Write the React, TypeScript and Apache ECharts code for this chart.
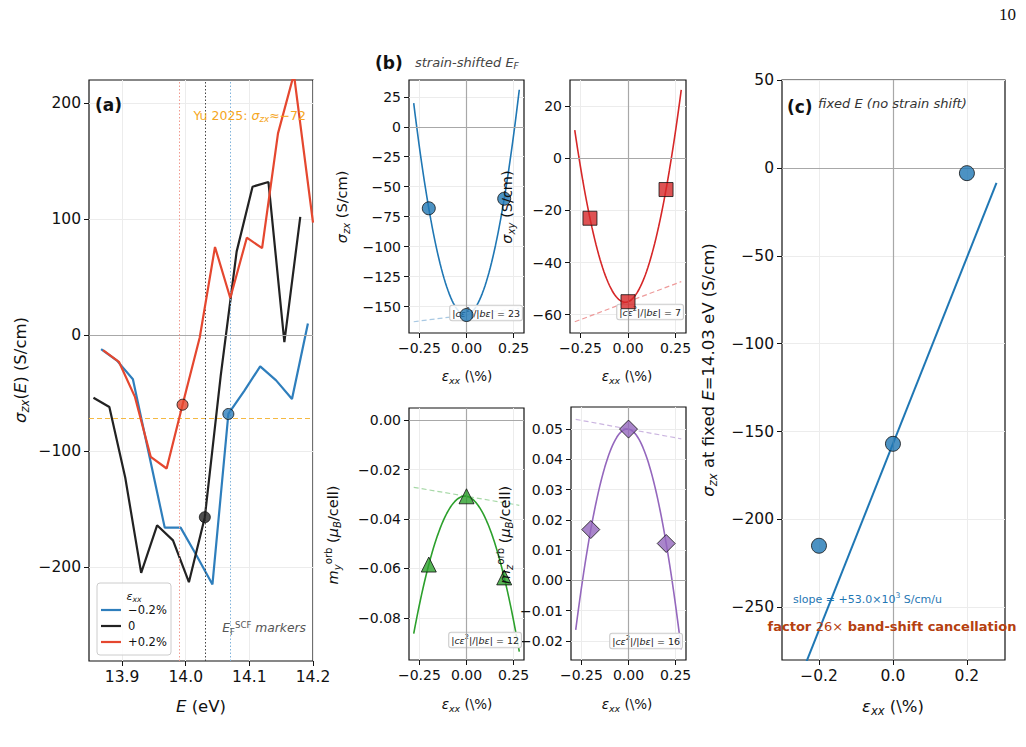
import React, { useEffect, useRef } from 'react';
import * as echarts from 'echarts';

const FONT = '"DejaVu Sans", sans-serif';

// ---------- Panel (a): sigma_zx(E) ----------
const E_m02 = [13.867, 13.892, 13.917, 13.942, 13.967, 13.992, 14.017, 14.042, 14.067, 14.092, 14.117, 14.142, 14.167, 14.192];
const S_m02 = [-12, -22, -38, -102, -166, -166, -190, -215, -68, -48, -27, -39, -55, 10];
const E_0 = [13.855, 13.88, 13.905, 13.93, 13.955, 13.98, 14.005, 14.03, 14.055, 14.08, 14.105, 14.13, 14.155, 14.18];
const S_0 = [-54, -62, -123, -205, -164, -177, -213, -157, -35, 72, 128, 132, -6, 102];
const E_p02 = [13.87, 13.895, 13.92, 13.945, 13.97, 13.995, 14.022, 14.046, 14.07, 14.096, 14.12, 14.145, 14.17, 14.2];
const S_p02 = [-13, -23, -53, -105, -115, -60, -2, 76, 32, 84, 75, 174, 225, 97];
const EF_SCF = [14.067, 14.03, 13.995];
const SIGMA_AT_EF = [-68, -157, -60];
const YU2025 = -72;
const A_XTICKS = [13.9, 14.0, 14.1, 14.2];
const A_YTICKS = [-200, -100, 0, 100, 200];

// ---------- Panel (b): strain-shifted E_F ----------
const STRAIN = [-0.2, 0, 0.2];
const SIG_ZX = [-68, -157, -60];
const SIG_XY = [-23, -55, -12];
const M_Y_ORB = [-0.0584, -0.0308, -0.0636];
const M_Z_ORB = [0.0168, 0.05, 0.0122];
const RATIO_LABELS = ['23', '7', '12', '16'];
const B_XTICKS = [-0.25, 0, 0.25];
const TL_YTICKS = [-150, -125, -100, -75, -50, -25, 0, 25];
const TR_YTICKS = [-60, -40, -20, 0, 20];
const BL_YTICKS = [-0.08, -0.06, -0.04, -0.02, 0];
const BR_YTICKS = [-0.02, -0.01, 0, 0.01, 0.02, 0.03, 0.04, 0.05];

// ---------- Panel (c): fixed E ----------
const SIG_FIXED = [-215, -157, -3];
const C_XTICKS = [-0.2, 0, 0.2];
const C_YTICKS = [-250, -200, -150, -100, -50, 0, 50];

const FIT_RANGE = [-0.28, 0.28];

function polyfit2(xs: number[], ys: number[]) {
  // least squares quadratic y = a + b x + c x^2
  const n = xs.length;
  let s0 = n, s1 = 0, s2 = 0, s3 = 0, s4 = 0, t0 = 0, t1 = 0, t2 = 0;
  for (let i = 0; i < n; i++) {
    const x = xs[i], y = ys[i];
    s1 += x; s2 += x * x; s3 += x * x * x; s4 += x * x * x * x;
    t0 += y; t1 += x * y; t2 += x * x * y;
  }
  const M = [[s0, s1, s2, t0], [s1, s2, s3, t1], [s2, s3, s4, t2]];
  for (let i = 0; i < 3; i++) {
    let p = i;
    for (let r = i + 1; r < 3; r++) if (Math.abs(M[r][i]) > Math.abs(M[p][i])) p = r;
    [M[i], M[p]] = [M[p], M[i]];
    for (let r = 0; r < 3; r++) {
      if (r === i) continue;
      const f = M[r][i] / M[i][i];
      for (let k = i; k < 4; k++) M[r][k] -= f * M[i][k];
    }
  }
  return { a: M[0][3] / M[0][0], b: M[1][3] / M[1][1], c: M[2][3] / M[2][2] };
}

function sampleX(n: number) {
  const out: number[] = [];
  for (let i = 0; i < n; i++) out.push(FIT_RANGE[0] + (FIT_RANGE[1] - FIT_RANGE[0]) * i / (n - 1));
  return out;
}

const minus = (s: string) => s.replace('-', '\u2212');

function richStyles(F: number, color = '#111') {
  return {
    n: { fontFamily: FONT, fontSize: F, lineHeight: F * 1.3, color },
    i: { fontFamily: FONT, fontSize: F, fontStyle: 'italic', lineHeight: F * 1.3, color },
    b: { fontFamily: FONT, fontSize: F, fontWeight: 'bold', lineHeight: F * 1.3, color },
    sub: { fontFamily: FONT, fontSize: F * 0.7, fontStyle: 'italic', lineHeight: F * 0.7, verticalAlign: 'bottom', color },
    subn: { fontFamily: FONT, fontSize: F * 0.7, lineHeight: F * 0.7, verticalAlign: 'bottom', color },
    sup: { fontFamily: FONT, fontSize: F * 0.7, lineHeight: F * 0.7, verticalAlign: 'top', color },
  };
}

function txt(x: number, y: number, text: string, F: number, opts: any = {}) {
  return {
    type: 'text',
    x, y,
    rotation: opts.rotation || 0,
    z: opts.z ?? 100,
    style: {
      text,
      rich: richStyles(F, opts.color || '#111'),
      align: opts.align || 'center',
      verticalAlign: opts.verticalAlign || 'middle',
      fill: opts.color || '#111',
      font: `${F}px ${FONT}`,
      backgroundColor: opts.bg,
      borderColor: opts.border,
      borderWidth: opts.border ? 1 : 0,
      borderRadius: opts.border ? 2 : 0,
      padding: opts.padding,
    },
  };
}

export default function App() {
  const ref = useRef<HTMLDivElement>(null);

  useEffect(() => {
    if (!ref.current) return;
    const chart = echarts.init(ref.current, undefined, { renderer: 'svg' });

    const grids = [
      { left: 89, top: 80, width: 224, height: 581 }, // a
      { left: 409, top: 80, width: 115, height: 253 }, // b TL
      { left: 570, top: 80, width: 116, height: 253 }, // b TR
      { left: 409, top: 408, width: 115, height: 252 }, // b BL
      { left: 571, top: 407, width: 115, height: 253 }, // b BR
      { left: 782, top: 80, width: 223, height: 580 }, // c
    ].map((g) => ({ ...g, show: true, borderColor: '#111', borderWidth: 1.2, backgroundColor: 'transparent', containLabel: false }));

    const splitLine = { show: true, lineStyle: { color: '#ececec', width: 1 } };

    const mkAxis = (gi: number, min: number, max: number, ticks: number[], fmt: (v: number) => string, F: number) => ({
      type: 'value', gridIndex: gi, min, max,
      axisLine: { show: false, onZero: false },
      axisTick: { show: true, inside: false, length: 5, lineStyle: { color: '#111', width: 1 }, customValues: ticks },
      axisLabel: { customValues: ticks, formatter: (v: number) => fmt(v), fontFamily: FONT, fontSize: F, color: '#111', margin: 8 },
      splitLine,
    });

    const fmtFixed = (d: number) => (v: number) => minus(v.toFixed(d));

    const xAxis = [
      mkAxis(0, 13.848, 14.2, A_XTICKS, fmtFixed(1), 15.5),
      mkAxis(1, -0.305, 0.305, B_XTICKS, fmtFixed(2), 14),
      mkAxis(2, -0.305, 0.305, B_XTICKS, fmtFixed(2), 14),
      mkAxis(3, -0.305, 0.305, B_XTICKS, fmtFixed(2), 14),
      mkAxis(4, -0.305, 0.305, B_XTICKS, fmtFixed(2), 14),
      mkAxis(5, -0.3, 0.303, C_XTICKS, fmtFixed(1), 15.5),
    ];
    const yAxis = [
      mkAxis(0, -281, 220, A_YTICKS, fmtFixed(0), 15.5),
      mkAxis(1, -172, 39, TL_YTICKS, fmtFixed(0), 14),
      mkAxis(2, -67, 30, TR_YTICKS, fmtFixed(0), 14),
      mkAxis(3, -0.097, 0.0049, BL_YTICKS, fmtFixed(2), 14),
      mkAxis(4, -0.0263, 0.0573, BR_YTICKS, fmtFixed(2), 14),
      mkAxis(5, -280, 50, C_YTICKS, fmtFixed(0), 15.5),
    ];

    const zeroLine = { color: '#a8a8a8', width: 1.2, type: 'solid' };
    const mline = (data: any[]) => ({ silent: true, symbol: 'none', label: { show: false }, animation: false, data });

    const series: any[] = [];

    // ---- panel (a)
    const aColors = ['#2e7ebc', '#222222', '#e5472f'];
    const aE = [E_m02, E_0, E_p02];
    const aS = [S_m02, S_0, S_p02];
    const vlineColors = ['#7fb3db', '#444444', '#f19a8f'];
    ['\u22120.2%', '0', '+0.2%'].forEach((name, k) => {
      series.push({
        type: 'line', name, xAxisIndex: 0, yAxisIndex: 0, showSymbol: false, clip: true,
        data: aE[k].map((e, i) => [e, aS[k][i]]),
        lineStyle: { color: aColors[k], width: 2.2 }, z: 3 + k,
        markLine: k === 0 ? mline([
          { yAxis: 0, lineStyle: zeroLine },
          { yAxis: YU2025, lineStyle: { color: '#f5b942', width: 1.2, type: [5, 3] } },
          ...EF_SCF.map((ef, j) => ({ xAxis: ef, lineStyle: { color: vlineColors[j], width: 1, type: [1.5, 2] } })),
        ]) : undefined,
      });
    });
    EF_SCF.forEach((ef, k) => {
      series.push({
        type: 'scatter', xAxisIndex: 0, yAxisIndex: 0, symbol: 'circle', symbolSize: 11,
        data: [[ef, SIGMA_AT_EF[k]]],
        itemStyle: { color: aColors[k], borderColor: '#111', borderWidth: 1 }, z: 10,
      });
    });

    // ---- panel (b)
    const bData = [SIG_ZX, SIG_XY, M_Y_ORB, M_Z_ORB];
    const bColors = ['#1f77b4', '#d62728', '#2ca02c', '#9467bd'];
    const bDash = ['#a9c9e3', '#ee9a9a', '#a6d8a6', '#cbb5e0'];
    const bSym = ['circle', 'rect', 'triangle', 'diamond'];
    const bSize = [13, 14, 15, 18];
    const xs = sampleX(81);
    bData.forEach((ys, k) => {
      const { a, b, c } = polyfit2(STRAIN, ys);
      series.push({
        type: 'line', xAxisIndex: k + 1, yAxisIndex: k + 1, showSymbol: false, clip: true, z: 2,
        data: FIT_RANGE.map((x) => [x, a + b * x]),
        lineStyle: { color: bDash[k], width: 1.2, type: [5, 3] },
        markLine: mline([
          { yAxis: 0, lineStyle: zeroLine },
          { xAxis: 0, lineStyle: zeroLine },
        ]),
      });
      series.push({
        type: 'line', xAxisIndex: k + 1, yAxisIndex: k + 1, showSymbol: false, clip: true, z: 3,
        data: xs.map((x) => [x, a + b * x + c * x * x]),
        lineStyle: { color: bColors[k], width: 1.6 },
      });
      series.push({
        type: 'scatter', xAxisIndex: k + 1, yAxisIndex: k + 1, symbol: bSym[k], symbolSize: bSize[k], z: 10,
        data: STRAIN.map((x, i) => [x, ys[i]]),
        itemStyle: { color: bColors[k], borderColor: '#111', borderWidth: 1 },
      });
    });

    // ---- panel (c)
    const slope = (SIG_FIXED[2] - SIG_FIXED[0]) / (STRAIN[2] - STRAIN[0]);
    series.push({
      type: 'line', xAxisIndex: 5, yAxisIndex: 5, showSymbol: false, clip: true, z: 3,
      data: FIT_RANGE.map((x) => [x, SIG_FIXED[1] + slope * x]),
      lineStyle: { color: '#1f77b4', width: 2 },
      markLine: mline([
        { yAxis: 0, lineStyle: zeroLine },
        { xAxis: 0, lineStyle: zeroLine },
      ]),
    });
    series.push({
      type: 'scatter', xAxisIndex: 5, yAxisIndex: 5, symbol: 'circle', symbolSize: 15, z: 10,
      data: STRAIN.map((x, i) => [x, SIG_FIXED[i]]),
      itemStyle: { color: '#1f77b4', borderColor: '#111', borderWidth: 1 },
    });
    const slopeText = (slope * 100 / 1000).toFixed(1);

    const ratioBox = (x: number, y: number, val: string) =>
      txt(x, y, `{n||}{i|c\u03b5}{sup|2}{n||/|}{i|b\u03b5}{n|| = ${val}}`, 9.5, {
        align: 'right', bg: 'rgba(255,255,255,0.85)', border: '#cccccc', padding: [1, 2, 1, 2], color: '#222', z: 5,
      });

    const graphic: any[] = [
      // page number
      { type: 'text', x: 1016, y: 14, z: 100, style: { text: '10', font: '17px "Liberation Serif", serif', fill: '#111', align: 'right', verticalAlign: 'middle' } },
      // panel (a)
      txt(95, 105, '{b|(a)}', 17, { align: 'left' }),
      txt(306, 115, '{n|Yu 2025: }{i|\u03c3}{sub|zx}{n|\u2248\u221272}', 12.5, { align: 'right', color: '#f5a623' }),
      txt(306, 628, '{i|E}{subn|F}{sup|SCF}{i| markers}', 12.3, { align: 'right', color: '#555555' }),
      txt(201, 706, '{i|E}{n| (eV)}', 16.5),
      txt(20, 370, '{i|\u03c3}{sub|zx}{n|(}{i|E}{n|) (S/cm)}', 16.5, { rotation: Math.PI / 2 }),
      // legend
      { type: 'rect', z: 90, shape: { x: 97, y: 583, width: 74, height: 72, r: 3 }, style: { fill: 'rgba(255,255,255,0.85)', stroke: '#cccccc', lineWidth: 1 } },
      txt(134, 596, '{i|\u03b5}{sub|xx}', 11),
      ...aColors.map((c, k) => ({ type: 'line', z: 95, shape: { x1: 101, y1: 610 + 16 * k, x2: 121, y2: 610 + 16 * k }, style: { stroke: c, lineWidth: 2.2 } })),
      ...['\u22120.2%', '0', '+0.2%'].map((t, k) => txt(128, 610 + 16 * k, `{n|${t}}`, 11.5, { align: 'left' })),
      // panel (b)
      txt(375, 63, '{b|(b)}', 17, { align: 'left' }),
      txt(415, 62, '{i|strain-shifted }{i|E}{sub|F}', 13, { align: 'left', color: '#444444' }),
      txt(342, 207, '{i|\u03c3}{sub|zx}{n| (S/cm)}', 14.5, { rotation: Math.PI / 2 }),
      txt(507, 207, '{i|\u03c3}{sub|xy}{n| (S/cm)}', 14.5, { rotation: Math.PI / 2 }),
      txt(333, 535, '{i|m}{sub|y}{sup|orb}{n| (}{i|\u03bc}{sub|B}{n|/cell)}', 14.5, { rotation: Math.PI / 2 }),
      txt(505, 535, '{i|m}{sub|z}{sup|orb}{n| (}{i|\u03bc}{sub|B}{n|/cell)}', 14.5, { rotation: Math.PI / 2 }),
      txt(467, 376, '{i|\u03b5}{sub|xx}{n| (\\%)}', 13.5),
      txt(627, 376, '{i|\u03b5}{sub|xx}{n| (\\%)}', 13.5),
      txt(467, 704, '{i|\u03b5}{sub|xx}{n| (\\%)}', 13.5),
      txt(627, 704, '{i|\u03b5}{sub|xx}{n| (\\%)}', 13.5),
      ratioBox(522, 313, RATIO_LABELS[0]),
      ratioBox(683, 312, RATIO_LABELS[1]),
      ratioBox(521, 640, RATIO_LABELS[2]),
      ratioBox(682, 641, RATIO_LABELS[3]),
      // panel (c)
      txt(787, 107, '{b|(c)}', 17, { align: 'left' }),
      txt(818, 103, '{i|fixed }{i|E}{i| (no strain shift)}', 13, { align: 'left', color: '#333333' }),
      txt(793, 599, `{n|slope = +${slopeText}\u00d710}{sup|3}{n| S/cm/u}`, 11, { align: 'left', color: '#1f77b4' }),
      txt(892, 626, '{b|factor }{n|26\u00d7}{b| band-shift cancellation}', 13, { color: '#b5400f' }),
      txt(893, 706, '{i|\u03b5}{sub|xx}{n| (\\%)}', 16.5),
      txt(708, 370, '{i|\u03c3}{sub|zx}{n| at fixed }{i|E}{n|=14.03 eV (S/cm)}', 16.5, { rotation: Math.PI / 2 }),
    ];

    chart.setOption({
      animation: false,
      backgroundColor: '#ffffff',
      grid: grids,
      xAxis,
      yAxis,
      series,
      graphic,
    });

    return () => chart.dispose();
  }, []);

  return <div ref={ref} style={{ position: 'absolute', left: 0, top: 0, width: 1026, height: 747 }} />;
}
